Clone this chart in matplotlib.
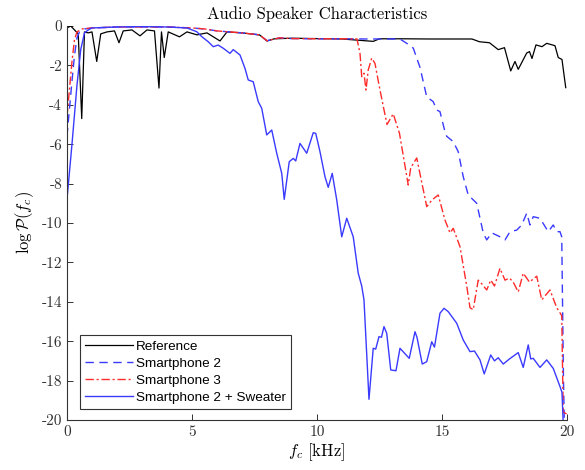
import matplotlib
matplotlib.use("Agg")
import matplotlib.pyplot as plt

# frequency (kHz) / log power
ref_f = [0.0, 0.15, 0.3, 0.45, 0.59, 0.7, 0.85, 1.0, 1.19, 1.35, 1.6, 1.9, 2.08, 2.25, 2.6, 2.92,
         3.2, 3.5, 3.68, 3.78, 3.89, 4.05, 4.5, 4.8, 5.2, 5.6, 6.12, 6.4, 7.0, 7.7, 8.0, 8.3,
         9.0, 10.0, 11.0, 12.25, 12.5, 13.5, 14.5, 15.5, 16.2, 16.5, 16.9, 17.25, 17.5, 17.75,
         17.92, 18.05, 18.39, 18.5, 18.6, 18.76, 19.0, 19.19, 19.52, 19.65, 19.8, 19.95]
ref_p = [-0.1, 0.0, -0.2, -0.4, -4.7, -0.3, -0.35, -0.3, -1.8, -0.4, -0.3, -0.25, -0.85, -0.25,
         -0.2, -0.5, -0.2, -0.25, -3.15, -0.3, -1.6, -0.3, -0.55, -0.3, -0.45, -0.35, -0.76,
         -0.3, -0.35, -0.45, -0.76, -0.65, -0.62, -0.64, -0.66, -0.78, -0.65, -0.65, -0.66,
         -0.66, -0.66, -0.8, -0.85, -1.2, -1.1, -2.28, -1.8, -2.2, -1.37, -1.3, -1.65, -0.96,
         -1.05, -0.88, -1.0, -1.6, -1.7, -3.13]

sp2_f = [0.0, 0.1, 0.2, 0.3, 0.4, 0.5, 0.7, 1.0, 2.0, 3.0, 4.0, 5.0, 5.5, 6.0, 6.5, 7.0, 7.7,
         8.0, 8.5, 9.0, 10.0, 11.0, 12.0, 13.0, 13.32, 13.59, 13.85, 14.12, 14.39, 14.65,
         14.79, 14.92, 15.12, 15.19, 15.45, 15.65, 15.85, 16.05, 16.39, 16.65, 16.79, 16.99,
         17.32, 17.52, 17.72, 17.99, 18.19, 18.39, 18.52, 18.65, 18.92, 19.25, 19.45, 19.59,
         19.72, 19.79, 19.86, 19.9]
sp2_p = [-5.6, -4.2, -2.8, -1.5, -0.6, -0.3, -0.15, -0.1, -0.05, -0.05, -0.05, -0.1, -0.15,
         -0.25, -0.3, -0.35, -0.45, -0.75, -0.6, -0.64, -0.65, -0.65, -0.66, -0.66, -0.66,
         -0.88, -1.12, -2.1, -3.6, -3.84, -4.26, -4.35, -5.37, -5.6, -5.87, -6.38, -7.65,
         -8.58, -9.0, -10.5, -10.86, -10.5, -10.7, -10.86, -10.44, -10.36, -10.1, -9.5, -10.1,
         -9.68, -9.76, -10.44, -10.1, -10.44, -10.44, -10.7, -18.0, -20.5]

sp3_f = [0.0, 0.1, 0.2, 0.3, 0.4, 0.6, 1.0, 2.0, 3.0, 4.0, 5.0, 5.5, 6.0, 6.5, 7.0, 7.7, 8.0,
         8.5, 9.0, 10.0, 11.0, 11.6, 11.72, 11.79, 11.88, 11.96, 12.05, 12.19, 12.32, 12.52,
         12.72, 12.8, 13.05, 13.3, 13.65, 13.75, 13.99, 14.39, 14.6, 14.85, 15.12, 15.32,
         15.45, 15.72, 15.99, 16.12, 16.25, 16.45, 16.6, 16.79, 16.95, 17.1, 17.32, 17.52,
         17.7, 17.85, 18.05, 18.25, 18.5, 18.79, 18.99, 19.32, 19.59, 19.79, 19.85, 20.0]
sp3_p = [-4.6, -3.2, -1.8, -0.7, -0.3, -0.15, -0.1, -0.05, -0.05, -0.05, -0.1, -0.15, -0.25,
         -0.3, -0.35, -0.45, -0.75, -0.6, -0.64, -0.65, -0.65, -0.66, -1.38, -2.57, -2.4,
         -3.25, -2.23, -1.63, -1.9, -3.25, -4.5, -5.0, -4.46, -5.45, -8.07, -7.2, -6.7, -9.17,
         -8.83, -8.58, -9.85, -10.5, -10.27, -11.2, -13.2, -14.3, -14.4, -12.9, -13.1, -13.4,
         -12.9, -13.2, -12.3, -12.9, -12.8, -13.0, -13.5, -12.55, -13.0, -12.7, -13.9, -13.4,
         -14.3, -14.7, -19.6, -19.7]

swt_f = [0.0, 0.2, 0.4, 0.55, 0.7, 0.85, 1.0, 2.0, 3.0, 4.0, 4.8, 5.19, 5.39, 5.65, 5.85, 6.05,
         6.25, 6.52, 6.65, 6.92, 7.12, 7.25, 7.45, 7.65, 7.79, 7.99, 8.19, 8.39, 8.59, 8.69,
         8.89, 9.05, 9.15, 9.32, 9.59, 9.85, 9.95, 10.12, 10.32, 10.45, 10.61, 10.79, 10.99,
         11.19, 11.45, 11.65, 11.79, 11.88, 12.08, 12.25, 12.35, 12.48, 12.58, 12.68, 12.79,
         12.95, 13.16, 13.32, 13.48, 13.69, 13.92, 14.0, 14.21, 14.39, 14.59, 14.7, 14.92,
         15.08, 15.25, 15.59, 15.85, 16.12, 16.3, 16.52, 16.69, 16.95, 17.1, 17.25, 17.45,
         17.7, 18.05, 18.25, 18.45, 18.55, 18.65, 18.92, 19.19, 19.45, 19.72, 19.8, 19.86]
swt_p = [-8.8, -6.0, -3.0, -1.2, -0.35, -0.2, -0.1, -0.05, -0.03, -0.05, -0.1, -0.29, -0.54,
         -0.8, -1.05, -0.97, -1.13, -1.39, -1.2, -1.47, -2.15, -2.74, -2.83, -3.84, -4.18,
         -5.53, -5.28, -6.46, -7.48, -8.8, -6.89, -6.72, -6.85, -5.96, -6.46, -5.42, -5.45,
         -6.38, -7.65, -8.19, -7.48, -8.83, -10.7, -9.76, -10.7, -12.55, -13.2, -13.9, -18.95,
         -16.36, -16.4, -15.77, -15.8, -15.26, -15.6, -17.46, -17.5, -16.36, -16.58, -16.87,
         -15.52, -15.8, -17.16, -17.04, -16.03, -16.3, -14.58, -14.33, -14.5, -15.09, -15.94,
         -16.53, -16.5, -16.95, -17.66, -16.7, -17.0, -16.84, -17.16, -16.9, -16.58, -17.33,
         -16.19, -16.9, -16.87, -17.33, -16.95, -17.38, -18.3, -18.6, -20.5]

x_ticks = [0, 5, 10, 15, 20]
y_ticks = [0, -2, -4, -6, -8, -10, -12, -14, -16, -18, -20]

plt.rcParams["mathtext.fontset"] = "cm"
plt.rcParams["axes.unicode_minus"] = False
serif = "cmr10"

fig = plt.figure(figsize=(5.85, 4.7), dpi=100)
ax = fig.add_axes([0.1145, 0.1064, 0.8547, 0.8383])

ax.plot(ref_f, ref_p, color="black", lw=0.9, label="Reference")
ax.plot(sp2_f, sp2_p, color="#3a3aff", lw=1.0, ls=(0, (6, 4)), label="Smartphone 2")
ax.plot(sp3_f, sp3_p, color="#ff2a2a", lw=1.0, ls=(0, (6, 2, 1.5, 2)), label="Smartphone 3")
ax.plot(swt_f, swt_p, color="#3a3aff", lw=1.0, label="Smartphone 2 + Sweater")

ax.set_xlim(0, 20)
ax.set_ylim(-20, 0)
ax.set_xticks(x_ticks)
ax.set_xticklabels([str(t) for t in x_ticks], fontfamily=serif, fontsize=11)
ax.set_yticks(y_ticks)
ax.set_yticklabels([str(t) for t in y_ticks], fontfamily=serif, fontsize=11)
ax.tick_params(direction="in", length=4, width=0.7, colors="#333333")
for s in ("top", "right"):
    ax.spines[s].set_visible(False)
for s in ("left", "bottom"):
    ax.spines[s].set_color("#333333")
    ax.spines[s].set_linewidth(0.8)

ax.set_title("Audio Speaker Characteristics", fontfamily=serif, fontsize=12, pad=5)
ax.set_xlabel(r"$f_c\ [\mathrm{kHz}]$", fontsize=12, labelpad=2)
ax.set_ylabel(r"$\log\mathcal{P}(f_c)$", fontsize=12, labelpad=4)

leg = ax.legend(loc="lower left", bbox_to_anchor=(0.026, 0.028), borderaxespad=0,
                prop={"family": "Liberation Sans", "size": 9.7},
                handlelength=3.5, fancybox=False, framealpha=1, edgecolor="#333333",
                borderpad=0.4, labelspacing=0.34, handletextpad=0.25)
leg.get_frame().set_linewidth(0.8)

fig.savefig("out.png", dpi=100)
